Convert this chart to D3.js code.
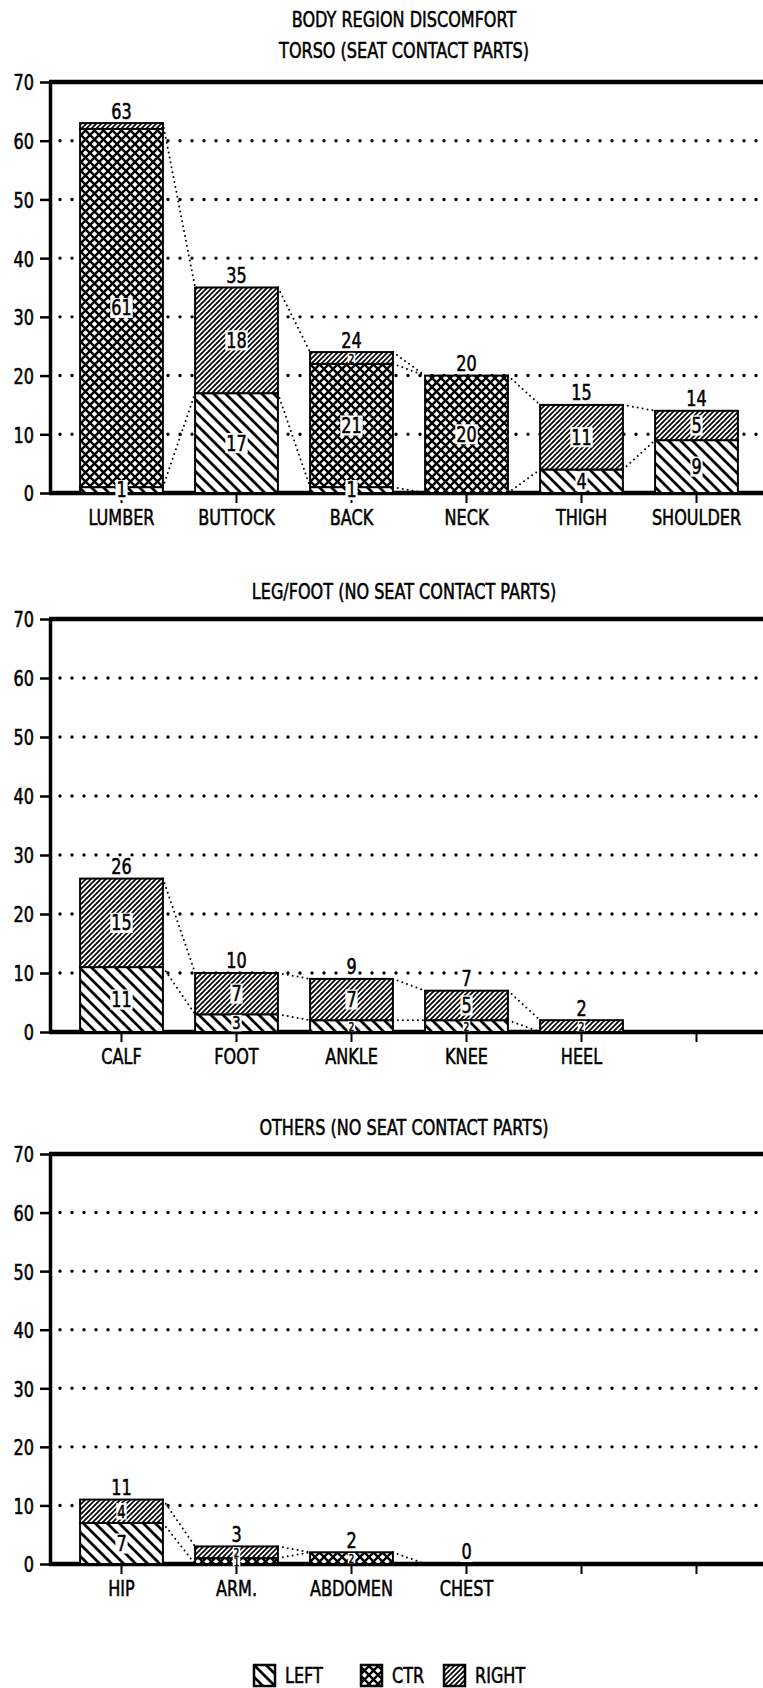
<!DOCTYPE html>
<html>
<head>
<meta charset="utf-8">
<script src="https://cdn.jsdelivr.net/npm/d3@7"></script>
<style>
body { margin: 0; background: #fff; }
text { font-family: "DejaVu Sans", sans-serif; fill: #000; stroke: #000; stroke-width: 0.6px; }
</style>
</head>
<body>
<div id="canvas"></div>
<script>
"use strict"

let svgWidth = 763
let svgHeight = 1688

let seriesNames = ["LEFT", "CTR", "RIGHT"]
let yTicks = [0, 10, 20, 30, 40, 50, 60, 70]

// torso
let torsoCategories = ["LUMBER", "BUTTOCK", "BACK", "NECK", "THIGH", "SHOULDER"]
let torsoLeft = [1, 17, 1, 0, 4, 9]
let torsoCtr = [61, 0, 21, 20, 0, 0]
let torsoRight = [1, 18, 2, 0, 11, 5]

// leg / foot
let legCategories = ["CALF", "FOOT", "ANKLE", "KNEE", "HEEL", ""]
let legLeft = [11, 3, 2, 2, 0]
let legCtr = [0, 0, 0, 0, 0]
let legRight = [15, 7, 7, 5, 2]

// others
let otherCategories = ["HIP", "ARM.", "ABDOMEN", "CHEST", "", ""]
let otherLeft = [7, 0, 0, 0]
let otherCtr = [0, 1, 2, 0]
let otherRight = [4, 2, 0, 0]

let panels = [
    { titles: ["BODY REGION DISCOMFORT", "TORSO (SEAT CONTACT PARTS)"], titleY: [20, 51],
      categories: torsoCategories, left: torsoLeft, ctr: torsoCtr, right: torsoRight, top: 82, bottom: 493 },
    { titles: ["LEG/FOOT (NO SEAT CONTACT PARTS)"], titleY: [592],
      categories: legCategories, left: legLeft, ctr: legCtr, right: legRight, top: 619, bottom: 1032 },
    { titles: ["OTHERS (NO SEAT CONTACT PARTS)"], titleY: [1128],
      categories: otherCategories, left: otherLeft, ctr: otherCtr, right: otherRight, top: 1154, bottom: 1564 }
]

let axisX = 50
let fontSize = 22
let midFont = 18
let smallFont = 12
let squeezeX = 0.73   // narrow plotter-like lettering

let svg = d3.select("#canvas")
    .append("svg")
    .attr("width", svgWidth)
    .attr("height", svgHeight)

svg.append("rect")
    .attr("width", svgWidth)
    .attr("height", svgHeight)
    .attr("fill", "#fff")

/* hatch patterns for the three series */
let defs = svg.append("defs")

function addPattern(id, size, path, width) {
    let p = defs.append("pattern")
        .attr("id", id)
        .attr("patternUnits", "userSpaceOnUse")
        .attr("width", size)
        .attr("height", size)
    p.append("rect").attr("width", size).attr("height", size).attr("fill", "#fff")
    p.append("path").attr("d", path).attr("stroke", "#000").attr("stroke-width", width).attr("fill", "none")
}

addPattern("pat-LEFT", 12, "M0,0L12,12M-3,9L3,15M9,-3L15,3", 2.8)
addPattern("pat-CTR", 9, "M0,0L9,9M9,0L0,9", 2.4)
addPattern("pat-RIGHT", 5, "M0,5L5,0M-1.5,1.5L1.5,-1.5M3.5,6.5L6.5,3.5", 1.7)

// squash a text horizontally around its anchor point
function squeeze(sel) {
    sel.each(function () {
        let t = d3.select(this)
        let x = +t.attr("x") || 0
        let y = +t.attr("y") || 0
        t.attr("x", 0).attr("y", 0)
            .attr("transform", `translate(${x},${y}) scale(${squeezeX},1)`)
    })
}

// white box behind a label so it knocks out the hatching
function labelWithBox(group, x, y, str, size) {
    let box = group.append("rect").attr("fill", "#fff")
    let t = group.append("text")
        .attr("x", x)
        .attr("y", y)
        .attr("text-anchor", "middle")
        .attr("dominant-baseline", "central")
        .attr("font-size", size)
        .text(str)
        .call(squeeze)
    let b = t.node().getBBox()
    box.attr("x", x + b.x * squeezeX - 1)
        .attr("y", y + b.y + size * 0.14)
        .attr("width", b.width * squeezeX + 2)
        .attr("height", b.height - size * 0.28)
}

// which boundary lines join two neighbouring bars
function keepLine(key, a, b) {
    if (key === "RIGHT") return true
    if (key === "LEFT") return a[key] > 0 || b[key] > 0
    return a[key] > 0 && b[key] > 0
}

panels.forEach(drawPanel)

function drawPanel(p) {
    let g = svg.append("g")

    let xScale = d3.scaleBand()
        .domain(d3.range(p.categories.length))
        .range([64, 754])
        .paddingInner(0.28)
        .paddingOuter(0.14)

    let yScale = d3.scaleLinear()
        .domain([0, 70])
        .range([p.bottom, p.top])

    /* titles */
    p.titles.forEach(function (t, i) {
        g.append("text")
            .attr("x", 404)
            .attr("y", p.titleY[i])
            .attr("text-anchor", "middle")
            .attr("dominant-baseline", "central")
            .attr("font-size", fontSize)
            .text(t)
            .call(squeeze)
    })

    /* dotted gridlines */
    g.selectAll("line.grid")
        .data(yTicks.filter(function (t) { return t > 0 && t < 70 }))
        .enter()
        .append("line")
        .attr("class", "grid")
        .attr("x1", axisX + 10)
        .attr("x2", svgWidth + 6)
        .attr("y1", function (d) { return yScale(d) })
        .attr("y2", function (d) { return yScale(d) })
        .attr("stroke", "#000")
        .attr("stroke-width", 3.4)
        .attr("stroke-linecap", "round")
        .attr("stroke-dasharray", "0 12")

    /* Y axis */
    let yAxis = d3.axisLeft(yScale)
        .tickValues(yTicks)
        .tickSize(10)
        .tickSizeOuter(0)
        .tickPadding(6)
    let ya = g.append("g")
        .attr("transform", `translate(${axisX},0)`)
        .call(yAxis)
    ya.select(".domain").attr("stroke-width", 3.5)
    ya.selectAll(".tick line").attr("stroke-width", 2.5)
    ya.selectAll(".tick text")
        .attr("font-size", fontSize)
        .attr("font-family", null)
        .attr("fill", null)
        .attr("dy", "0.36em")
        .call(squeeze)

    /* X axis ticks and labels */
    let xAxis = d3.axisBottom(xScale)
        .tickSize(10)
        .tickSizeOuter(0)
        .tickPadding(6)
        .tickFormat(function (i) { return p.categories[i] })
    let xa = g.append("g")
        .attr("transform", `translate(0,${p.bottom})`)
        .call(xAxis)
    xa.select(".domain").remove()
    xa.selectAll(".tick line").attr("stroke-width", 2)
    xa.selectAll(".tick text")
        .attr("font-size", fontSize)
        .attr("font-family", null)
        .attr("fill", null)
        .call(squeeze)

    /* top frame and base line */
    g.append("line")
        .attr("x1", axisX - 1).attr("x2", svgWidth)
        .attr("y1", p.top).attr("y2", p.top)
        .attr("stroke", "#000").attr("stroke-width", 4.5)
    g.append("line")
        .attr("x1", axisX - 1).attr("x2", svgWidth)
        .attr("y1", p.bottom).attr("y2", p.bottom)
        .attr("stroke", "#000").attr("stroke-width", 4.5)

    /* stacked bars */
    let rows = p.left.map(function (v, i) {
        return { idx: i, LEFT: p.left[i], CTR: p.ctr[i], RIGHT: p.right[i] }
    })
    let stacked = d3.stack().keys(seriesNames)(rows)

    stacked.forEach(function (layer) {
        g.selectAll(null)
            .data(layer.filter(function (d) { return d[1] > d[0] }))
            .enter()
            .append("rect")
            .attr("x", function (d) { return xScale(d.data.idx) })
            .attr("width", xScale.bandwidth())
            .attr("y", function (d) { return yScale(d[1]) })
            .attr("height", function (d) { return yScale(d[0]) - yScale(d[1]) })
            .attr("fill", `url(#pat-${layer.key})`)
            .attr("stroke", "#000")
            .attr("stroke-width", 2)
    })

    /* dotted series lines between neighbouring bars */
    stacked.forEach(function (layer) {
        for (let i = 0; i < layer.length - 1; i++) {
            let a = layer[i], b = layer[i + 1]
            if (!keepLine(layer.key, a.data, b.data)) continue
            g.append("line")
                .attr("x1", xScale(i) + xScale.bandwidth())
                .attr("y1", yScale(a[1]))
                .attr("x2", xScale(i + 1))
                .attr("y2", yScale(b[1]))
                .attr("stroke", "#000")
                .attr("stroke-width", 2)
                .attr("stroke-linecap", "round")
                .attr("stroke-dasharray", "0 5")
        }
    })

    /* segment values: thin segments get a smaller label unless there is room above */
    stacked.forEach(function (layer) {
        layer.forEach(function (d) {
            let v = d[1] - d[0]
            if (v <= 0) return
            let total = d.data.LEFT + d.data.CTR + d.data.RIGHT
            // a one-unit cap under the total is hidden by the total label
            if (v === 1 && d[0] > 0 && d[1] === total) return
            let roomy = d[0] === 0 && total - d[1] >= 10
            let size = fontSize
            if (!roomy && v < 3) size = smallFont
            else if (!roomy && v < 5) size = midFont
            labelWithBox(g, xScale(d.data.idx) + xScale.bandwidth() / 2, yScale((d[0] + d[1]) / 2), v, size)
        })
    })

    /* totals */
    rows.forEach(function (r) {
        let total = r.LEFT + r.CTR + r.RIGHT
        labelWithBox(g, xScale(r.idx) + xScale.bandwidth() / 2, yScale(total) - 12, total, fontSize)
    })
}

/* legend */
let legend = svg.append("g")
    .attr("transform", "translate(0,1675)")

let legendX = d3.scaleOrdinal()
    .domain(seriesNames)
    .range([254, 361, 444])

seriesNames.forEach(function (s) {
    legend.append("rect")
        .attr("x", legendX(s))
        .attr("y", -10)
        .attr("width", 21)
        .attr("height", 21)
        .attr("fill", `url(#pat-${s})`)
        .attr("stroke", "#000")
        .attr("stroke-width", 2.5)
    legend.append("text")
        .attr("x", legendX(s) + 31)
        .attr("y", 1)
        .attr("dominant-baseline", "central")
        .attr("font-size", fontSize)
        .text(s)
        .call(squeeze)
})
</script>
</body>
</html>
